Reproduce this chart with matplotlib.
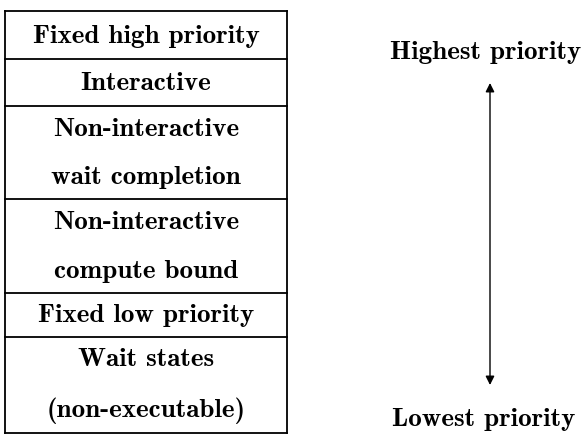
import matplotlib
matplotlib.use('Agg')
import matplotlib.pyplot as plt

# priority levels, top (highest) to bottom (lowest)
levels = ["Fixed high priority",
          "Interactive",
          "Non-interactive\nwait completion",
          "Non-interactive\ncompute bound",
          "Fixed low priority",
          "Wait states\n(non-executable)"]
# row edges in picture pixels, top to bottom
edges = [12, 60, 107, 200, 294, 338, 434]
top_label = "Highest priority"
bottom_label = "Lowest priority"

FONT = 'cmb10'

fig = plt.figure(figsize=(5.81, 4.39), dpi=100)
ax = fig.add_axes([0, 0, 1, 1])
ax.set_xlim(0, 581)
ax.set_ylim(439, 0)
ax.axis('off')

box_left, box_right = 5, 287
ax.plot([box_left, box_left], [edges[0], edges[-1]], color='black', lw=1.3)
ax.plot([box_right, box_right], [edges[0], edges[-1]], color='black', lw=1.3)
for y in edges:
    ax.plot([box_left, box_right], [y, y], color='black', lw=1.3)

cx = (box_left + box_right) / 2
for i, lab in enumerate(levels):
    mid = (edges[i] + edges[i + 1]) / 2
    ax.text(cx, mid, lab, ha='center', va='center', fontsize=19.5,
            family=FONT, linespacing=2.4)

ax.text(486, 52, top_label, ha='center', va='center', fontsize=19.5, family=FONT)
ax.text(484, 420, bottom_label, ha='center', va='center', fontsize=19.5, family=FONT)
ax.annotate('', xy=(490, 84), xytext=(490, 386),
            arrowprops=dict(arrowstyle='<|-|>', color='black', lw=1.0,
                            mutation_scale=13, shrinkA=0, shrinkB=0))

fig.savefig('out.png', dpi=100)
